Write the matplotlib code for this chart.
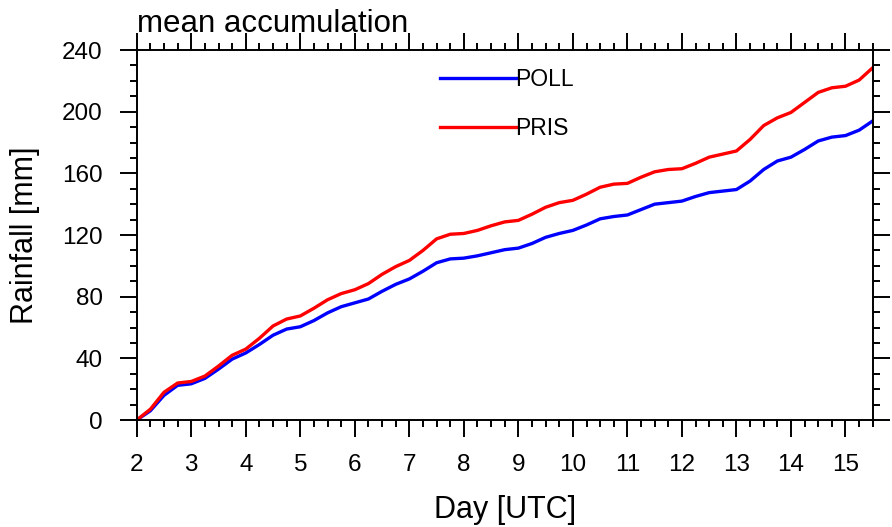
import numpy as np
import matplotlib
matplotlib.use('Agg')
import matplotlib.pyplot as plt
from matplotlib.ticker import MultipleLocator

# 6-hourly mean accumulated rainfall (mm)
days = [2.00, 2.25, 2.50, 2.75, 3.00, 3.25, 3.50, 3.75, 4.00, 4.25, 4.50, 4.75,
        5.00, 5.25, 5.50, 5.75, 6.00, 6.25, 6.50, 6.75, 7.00, 7.25, 7.50, 7.75,
        8.00, 8.25, 8.50, 8.75, 9.00, 9.25, 9.50, 9.75, 10.00, 10.25, 10.50, 10.75,
        11.00, 11.25, 11.50, 11.75, 12.00, 12.25, 12.50, 12.75, 13.00, 13.25, 13.50, 13.75,
        14.00, 14.25, 14.50, 14.75, 15.00, 15.25, 15.50]
poll = [0, 6, 16, 22.5, 23.5, 27, 33, 39.5, 43.5, 49, 55, 59,
        60.5, 64.5, 69.5, 73.5, 76, 78.5, 83.5, 88, 91.5, 96.5, 102, 104.5,
        105, 106.5, 108.5, 110.5, 111.5, 114.5, 118.5, 121, 123, 126.5, 130.5, 132,
        133, 136.5, 140, 141, 142, 145, 147.5, 148.5, 149.5, 155, 162.5, 168,
        170.5, 175.5, 181, 183.5, 184.5, 188, 194]
pris = [0, 7, 18, 24, 25, 28.5, 35, 42, 46, 53, 61, 65.5,
        67.5, 72.5, 78, 82, 84.5, 88.5, 94.5, 99.5, 103.5, 110, 117.5, 120.5,
        121, 123, 126, 128.5, 129.5, 133.5, 138, 141, 142.5, 146.5, 151, 153,
        153.5, 157.5, 161, 162.5, 163, 166.5, 170.5, 172.5, 174.5, 182, 191, 196,
        199.5, 206, 212.5, 215.5, 216.5, 220.5, 228.5]
series_names = ['POLL', 'PRIS']
xticks = list(range(2, 16))
yticks = [0, 40, 80, 120, 160, 200, 240]

plt.rcParams['font.family'] = ['Liberation Sans', 'DejaVu Sans']

fig = plt.figure(figsize=(8.92, 5.27), dpi=100)
ax = fig.add_axes([0.1533, 0.2030, 0.8251, 0.7021])

ax.plot(days, poll, color='#0000ff', lw=2.4, label=series_names[0],
        solid_joinstyle='round')
ax.plot(days, pris, color='#ff0000', lw=2.4, label=series_names[1],
        solid_joinstyle='round')

ax.set_xlim(2, 15.5)
ax.set_ylim(0, 240)
ax.set_xticks(xticks)
ax.set_yticks(yticks)
ax.xaxis.set_minor_locator(MultipleLocator(0.25))
ax.yaxis.set_minor_locator(MultipleLocator(10))
ax.tick_params(which='both', direction='out', top=True, right=True, width=1.4,
               labelsize=17.5, labeltop=False, labelright=False)
ax.tick_params(which='major', length=12.5, pad=12)
ax.tick_params(which='minor', length=5.3)
for s in ax.spines.values():
    s.set_linewidth(1.4)

ax.set_xlabel('Day [UTC]', fontsize=22, labelpad=14)
ax.set_ylabel('Rainfall [mm]', fontsize=22, labelpad=16)
ax.set_title('mean accumulation', loc='left', fontsize=22.5, y=1.0, pad=13)

ax.legend(loc='upper left', bbox_to_anchor=(0.412, 0.952), frameon=False,
          fontsize=16.5, handlelength=3.3, handletextpad=0.0, labelspacing=1.15,
          borderpad=0, borderaxespad=0)

fig.savefig('out.png', dpi=100)
